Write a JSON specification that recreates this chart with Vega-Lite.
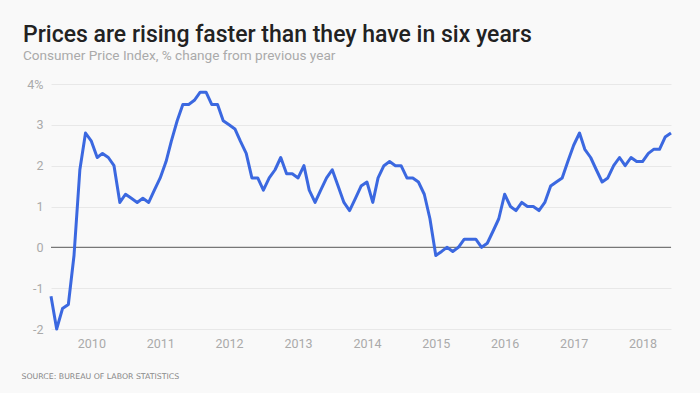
{
  "$schema": "https://vega.github.io/schema/vega-lite/v6.json",
  "width": 620,
  "height": 245,
  "autosize": {"type": "none"},
  "padding": {"left": 51, "top": 84, "right": 29, "bottom": 64},
  "background": "#f9f9f9",
  "title": {
    "text": "Prices are rising faster than they have in six years",
    "subtitle": "Consumer Price Index, % change from previous year",
    "anchor": "start",
    "frame": "group",
    "dx": -28,
    "offset": 15,
    "font": "Roboto",
    "fontSize": 23,
    "fontWeight": 500,
    "color": "#222222",
    "subtitleFont": "Roboto",
    "subtitleFontSize": 13.6,
    "subtitleColor": "#aaaaaa",
    "subtitlePadding": 2
  },
  "config": {
    "view": {"stroke": null},
    "axis": {
      "domain": false,
      "ticks": false,
      "labelFont": "Roboto",
      "labelFontSize": 12.5,
      "labelColor": "#aaaaaa"
    }
  },
  "data": {
    "values": [
      {"date": "2009-06-01", "cpi": -1.2},
      {"date": "2009-07-01", "cpi": -2.0},
      {"date": "2009-08-01", "cpi": -1.5},
      {"date": "2009-09-01", "cpi": -1.4},
      {"date": "2009-10-01", "cpi": -0.2},
      {"date": "2009-11-01", "cpi": 1.9},
      {"date": "2009-12-01", "cpi": 2.8},
      {"date": "2010-01-01", "cpi": 2.6},
      {"date": "2010-02-01", "cpi": 2.2},
      {"date": "2010-03-01", "cpi": 2.3},
      {"date": "2010-04-01", "cpi": 2.2},
      {"date": "2010-05-01", "cpi": 2.0},
      {"date": "2010-06-01", "cpi": 1.1},
      {"date": "2010-07-01", "cpi": 1.3},
      {"date": "2010-08-01", "cpi": 1.2},
      {"date": "2010-09-01", "cpi": 1.1},
      {"date": "2010-10-01", "cpi": 1.2},
      {"date": "2010-11-01", "cpi": 1.1},
      {"date": "2010-12-01", "cpi": 1.4},
      {"date": "2011-01-01", "cpi": 1.7},
      {"date": "2011-02-01", "cpi": 2.1},
      {"date": "2011-03-01", "cpi": 2.6},
      {"date": "2011-04-01", "cpi": 3.1},
      {"date": "2011-05-01", "cpi": 3.5},
      {"date": "2011-06-01", "cpi": 3.5},
      {"date": "2011-07-01", "cpi": 3.6},
      {"date": "2011-08-01", "cpi": 3.8},
      {"date": "2011-09-01", "cpi": 3.8},
      {"date": "2011-10-01", "cpi": 3.5},
      {"date": "2011-11-01", "cpi": 3.5},
      {"date": "2011-12-01", "cpi": 3.1},
      {"date": "2012-01-01", "cpi": 3.0},
      {"date": "2012-02-01", "cpi": 2.9},
      {"date": "2012-03-01", "cpi": 2.6},
      {"date": "2012-04-01", "cpi": 2.3},
      {"date": "2012-05-01", "cpi": 1.7},
      {"date": "2012-06-01", "cpi": 1.7},
      {"date": "2012-07-01", "cpi": 1.4},
      {"date": "2012-08-01", "cpi": 1.7},
      {"date": "2012-09-01", "cpi": 1.9},
      {"date": "2012-10-01", "cpi": 2.2},
      {"date": "2012-11-01", "cpi": 1.8},
      {"date": "2012-12-01", "cpi": 1.8},
      {"date": "2013-01-01", "cpi": 1.7},
      {"date": "2013-02-01", "cpi": 2.0},
      {"date": "2013-03-01", "cpi": 1.4},
      {"date": "2013-04-01", "cpi": 1.1},
      {"date": "2013-05-01", "cpi": 1.4},
      {"date": "2013-06-01", "cpi": 1.7},
      {"date": "2013-07-01", "cpi": 1.9},
      {"date": "2013-08-01", "cpi": 1.5},
      {"date": "2013-09-01", "cpi": 1.1},
      {"date": "2013-10-01", "cpi": 0.9},
      {"date": "2013-11-01", "cpi": 1.2},
      {"date": "2013-12-01", "cpi": 1.5},
      {"date": "2014-01-01", "cpi": 1.6},
      {"date": "2014-02-01", "cpi": 1.1},
      {"date": "2014-03-01", "cpi": 1.7},
      {"date": "2014-04-01", "cpi": 2.0},
      {"date": "2014-05-01", "cpi": 2.1},
      {"date": "2014-06-01", "cpi": 2.0},
      {"date": "2014-07-01", "cpi": 2.0},
      {"date": "2014-08-01", "cpi": 1.7},
      {"date": "2014-09-01", "cpi": 1.7},
      {"date": "2014-10-01", "cpi": 1.6},
      {"date": "2014-11-01", "cpi": 1.3},
      {"date": "2014-12-01", "cpi": 0.7},
      {"date": "2015-01-01", "cpi": -0.2},
      {"date": "2015-02-01", "cpi": -0.1},
      {"date": "2015-03-01", "cpi": 0.0},
      {"date": "2015-04-01", "cpi": -0.1},
      {"date": "2015-05-01", "cpi": 0.0},
      {"date": "2015-06-01", "cpi": 0.2},
      {"date": "2015-07-01", "cpi": 0.2},
      {"date": "2015-08-01", "cpi": 0.2},
      {"date": "2015-09-01", "cpi": 0.0},
      {"date": "2015-10-01", "cpi": 0.1},
      {"date": "2015-11-01", "cpi": 0.4},
      {"date": "2015-12-01", "cpi": 0.7},
      {"date": "2016-01-01", "cpi": 1.3},
      {"date": "2016-02-01", "cpi": 1.0},
      {"date": "2016-03-01", "cpi": 0.9},
      {"date": "2016-04-01", "cpi": 1.1},
      {"date": "2016-05-01", "cpi": 1.0},
      {"date": "2016-06-01", "cpi": 1.0},
      {"date": "2016-07-01", "cpi": 0.9},
      {"date": "2016-08-01", "cpi": 1.1},
      {"date": "2016-09-01", "cpi": 1.5},
      {"date": "2016-10-01", "cpi": 1.6},
      {"date": "2016-11-01", "cpi": 1.7},
      {"date": "2016-12-01", "cpi": 2.1},
      {"date": "2017-01-01", "cpi": 2.5},
      {"date": "2017-02-01", "cpi": 2.8},
      {"date": "2017-03-01", "cpi": 2.4},
      {"date": "2017-04-01", "cpi": 2.2},
      {"date": "2017-05-01", "cpi": 1.9},
      {"date": "2017-06-01", "cpi": 1.6},
      {"date": "2017-07-01", "cpi": 1.7},
      {"date": "2017-08-01", "cpi": 2.0},
      {"date": "2017-09-01", "cpi": 2.2},
      {"date": "2017-10-01", "cpi": 2.0},
      {"date": "2017-11-01", "cpi": 2.2},
      {"date": "2017-12-01", "cpi": 2.1},
      {"date": "2018-01-01", "cpi": 2.1},
      {"date": "2018-02-01", "cpi": 2.3},
      {"date": "2018-03-01", "cpi": 2.4},
      {"date": "2018-04-01", "cpi": 2.4},
      {"date": "2018-05-01", "cpi": 2.7},
      {"date": "2018-06-01", "cpi": 2.8}
    ]
  },
  "layer": [
    {
      "data": {"values": [{"zero": 0}]},
      "mark": {"type": "rule", "color": "#777777", "strokeWidth": 1.2},
      "encoding": {
        "y": {"field": "zero", "type": "quantitative", "title": null}
      }
    },
    {
      "mark": {"type": "line", "color": "#3b68e0", "strokeWidth": 3, "strokeJoin": "round"},
      "encoding": {
        "x": {
          "field": "date",
          "type": "temporal",
          "scale": {"nice": false},
          "axis": {
            "format": "%Y",
            "tickCount": {"interval": "year", "step": 1},
            "grid": false,
            "labelPadding": 8,
            "title": "SOURCE: BUREAU OF LABOR STATISTICS",
            "titleFont": "DejaVu Sans",
            "titleFontSize": 7.8,
            "titleFontWeight": "normal",
            "titleColor": "#888888",
            "titleAnchor": "start",
            "titleAlign": "left",
            "titleBaseline": "alphabetic",
            "titleX": -30,
            "titleY": 49
          }
        },
        "y": {
          "field": "cpi",
          "type": "quantitative",
          "title": null,
          "scale": {"domain": [-2, 4], "nice": false, "zero": false},
          "axis": {
            "values": [-2, -1, 0, 1, 2, 3, 4],
            "grid": true,
            "gridColor": "#e8e8e8",
            "labelPadding": 8,
            "labelExpr": "datum.value == 4 ? '4%' : '' + datum.value"
          }
        }
      }
    }
  ]
}
